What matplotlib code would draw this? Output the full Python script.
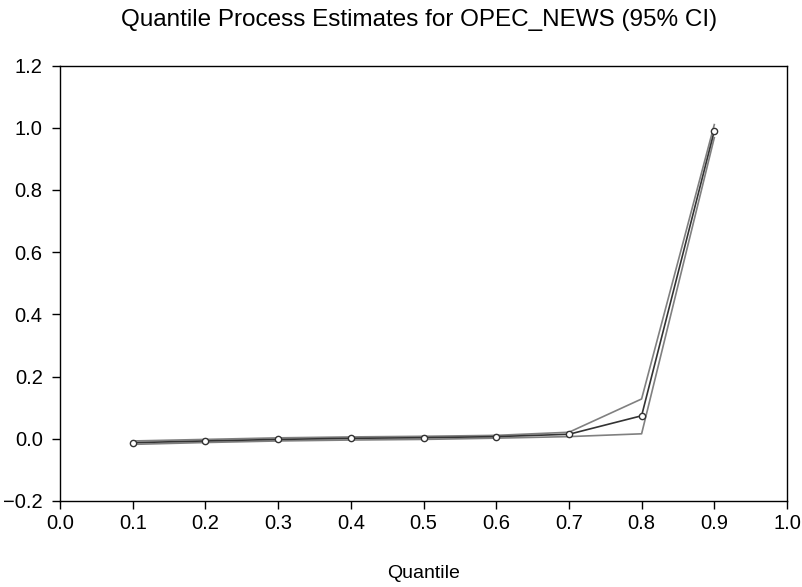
import matplotlib
matplotlib.use("Agg")
import matplotlib.pyplot as plt

plt.rcParams['font.family'] = ['Liberation Sans', 'DejaVu Sans']

quantiles = [0.1, 0.2, 0.3, 0.4, 0.5, 0.6, 0.7, 0.8, 0.9]
estimate = [-0.0125, -0.007, -0.002, 0.0015, 0.0035, 0.007, 0.0145, 0.074, 0.99]
upper = [-0.007, -0.002, 0.003, 0.006, 0.008, 0.011, 0.021, 0.128, 1.01]
lower = [-0.018, -0.012, -0.007, -0.004, -0.002, 0.002, 0.007, 0.016, 0.968]

x_ticks = [0.0, 0.1, 0.2, 0.3, 0.4, 0.5, 0.6, 0.7, 0.8, 0.9, 1.0]
y_ticks = [-0.2, 0.0, 0.2, 0.4, 0.6, 0.8, 1.0, 1.2]

fig = plt.figure(figsize=(8.02, 5.87), dpi=100)
ax = fig.add_axes([60/802, 1-501/587, (787-60)/802, (501-65.5)/587])

ax.plot(quantiles, upper, color='#808080', lw=1.2)
ax.plot(quantiles, lower, color='#808080', lw=1.2)
ax.plot(quantiles, estimate, color='#333333', lw=1.2, marker='o', ms=4.5,
        mfc='white', mec='#333333', mew=1.0)

ax.set_xlim(0.0, 1.0)
ax.set_ylim(-0.2, 1.2)
ax.set_xticks(x_ticks)
ax.set_xticklabels([f"{v:.1f}" for v in x_ticks])
ax.set_yticks(y_ticks)
ax.set_yticklabels([f"{v:.1f}".replace('-', '\u2212') for v in y_ticks])
ax.tick_params(axis='both', direction='out', length=5.5, width=1, labelsize=14.5, colors='black')
ax.tick_params(axis='x', pad=4)
ax.tick_params(axis='y', pad=7)
for s in ax.spines.values():
    s.set_linewidth(1.0)
    s.set_color('black')

fig.text((60 + 787) / 2 / 802, 1 - 574/587, 'Quantile', ha='center', va='center', fontsize=14)
fig.text(0.5 + 18/802, 1-20/587, 'Quantile Process Estimates for OPEC_NEWS (95% CI)',
         ha='center', va='center', fontsize=17.5)

fig.savefig('out.png', dpi=100)
